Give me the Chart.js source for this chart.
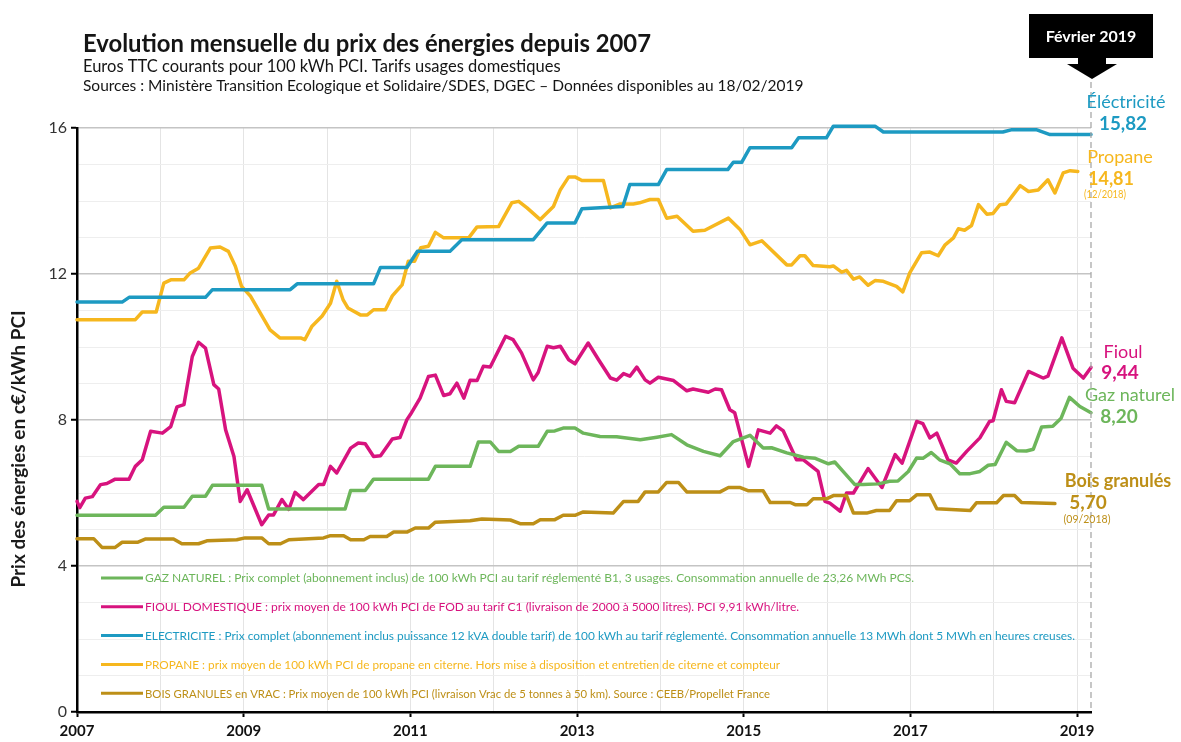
<!DOCTYPE html>
<html>
<head>
<meta charset="utf-8">
<script src="https://cdn.jsdelivr.net/npm/chart.js@4.4.0/dist/chart.umd.min.js"></script>
<style>
  html, body { margin: 0; padding: 0; background: #fff; }
</style>
</head>
<body>
<canvas id="prixEnergies" width="1181" height="742"></canvas>
<script>
// mois écoulés depuis janvier 2007 et prix en c€/kWh PCI
const elecMois = [0, 6.5, 7.5, 18.5, 19.5, 30.7, 31.7, 42.7, 43.7, 47.5, 49, 53.7, 55.4, 65.7, 67.7, 71.7, 72.7, 78.6, 79.6, 83.7, 84.9, 93.7, 94.5, 95.7, 96.9, 102.9, 103.9, 107.9, 108.9, 114.9, 116.1, 133.3, 134.5, 138.2, 140.1, 146];
const elecPrix = [11.23, 11.23, 11.36, 11.36, 11.57, 11.57, 11.73, 11.73, 12.18, 12.18, 12.62, 12.62, 12.94, 12.94, 13.4, 13.4, 13.79, 13.85, 14.45, 14.45, 14.86, 14.86, 15.06, 15.06, 15.46, 15.46, 15.73, 15.73, 16.05, 16.05, 15.89, 15.89, 15.95, 15.95, 15.82, 15.82];

const propaneMois = [0, 8.4, 9.4, 11.4, 12.5, 13.5, 15.4, 16.3, 17.5, 19.2, 20.6, 21.8, 22.8, 23.7, 25, 26.4, 27.8, 29.2, 32.2, 32.8, 33.8, 35.3, 36.5, 37.4, 38.3, 39, 40.8, 41.8, 42.7, 44.4, 45.4, 46.8, 47.7, 48.6, 49.5, 50.6, 51.6, 52.8, 56.4, 57.6, 60.7, 62.6, 63.6, 64.8, 66.7, 68.6, 69.6, 70.8, 71.7, 72.7, 75.8, 76.8, 78.2, 80.1, 81, 82.5, 83.7, 84.9, 86.4, 88.7, 90.4, 93.8, 95.5, 96.9, 98.6, 102.2, 102.9, 104.1, 104.8, 106, 108.4, 108.9, 110.1, 110.8, 111.8, 112.7, 113.9, 114.9, 116.1, 118, 118.9, 119.9, 121.6, 122.8, 124, 125, 126.2, 126.9, 127.8, 128.8, 129.8, 131, 131.9, 132.9, 133.8, 135.8, 137, 138.4, 139.8, 140.8, 142, 143, 144.1];
const propanePrix = [10.75, 10.75, 10.96, 10.96, 11.75, 11.84, 11.84, 12.03, 12.16, 12.71, 12.74, 12.62, 12.21, 11.66, 11.39, 10.93, 10.47, 10.25, 10.25, 10.2, 10.56, 10.85, 11.2, 11.8, 11.3, 11.07, 10.88, 10.88, 11.02, 11.02, 11.4, 11.7, 12.35, 12.35, 12.72, 12.76, 13.14, 12.99, 12.99, 13.29, 13.3, 13.95, 13.99, 13.81, 13.49, 13.85, 14.31, 14.66, 14.66, 14.56, 14.56, 13.81, 13.92, 13.92, 13.95, 14.04, 14.04, 13.53, 13.58, 13.17, 13.2, 13.53, 13.21, 12.8, 12.91, 12.25, 12.25, 12.5, 12.5, 12.23, 12.2, 12.22, 12.05, 12.1, 11.86, 11.92, 11.69, 11.82, 11.8, 11.66, 11.51, 12.03, 12.58, 12.6, 12.5, 12.8, 12.99, 13.24, 13.2, 13.33, 13.9, 13.64, 13.66, 13.9, 13.92, 14.42, 14.26, 14.3, 14.58, 14.22, 14.77, 14.83, 14.81];

const fioulMois = [0, 0.4, 1.2, 2.2, 3.4, 4.3, 5.5, 7.5, 8.4, 9.4, 10.6, 12.3, 13.5, 14.4, 15.4, 16.6, 17.5, 18.5, 19.7, 20.4, 21.4, 22.6, 23.5, 24.5, 26.6, 27.6, 28.3, 29.5, 30.5, 31.4, 32.6, 34.8, 35.5, 36.5, 37.4, 39.4, 40.5, 41.5, 42.7, 43.7, 45.4, 46.5, 47.5, 48, 49.4, 50.6, 51.6, 52.8, 53.7, 54.7, 55.7, 56.6, 57.6, 58.5, 59.5, 61.7, 62.8, 64, 65.7, 66.4, 67.7, 68.6, 69.6, 70.8, 71.7, 73.6, 75.1, 76.8, 77.7, 78.7, 79.6, 80.6, 81.8, 82.5, 83.7, 85.9, 87.8, 88.7, 90.9, 91.9, 92.8, 94, 94.7, 96.7, 98.1, 99.8, 100.7, 101.7, 103.6, 104.6, 106.7, 107.7, 108.4, 109.9, 110.8, 111.8, 113.9, 115.9, 117.8, 118.8, 120.9, 121.8, 122.8, 123.8, 125.4, 126.6, 128.1, 130, 131.4, 131.9, 133.1, 133.8, 135, 137, 139.1, 139.8, 141.8, 143.4, 144.9, 146];
const fioulPrix = [5.77, 5.6, 5.86, 5.9, 6.23, 6.26, 6.38, 6.38, 6.73, 6.91, 7.69, 7.64, 7.82, 8.36, 8.42, 9.74, 10.13, 9.97, 8.97, 8.85, 7.73, 7.0, 5.77, 6.09, 5.13, 5.4, 5.4, 5.82, 5.55, 6.02, 5.82, 6.23, 6.23, 6.73, 6.55, 7.23, 7.37, 7.35, 7.0, 7.02, 7.48, 7.52, 8.01, 8.15, 8.6, 9.19, 9.23, 8.67, 8.72, 9.01, 8.6, 9.09, 9.08, 9.47, 9.45, 10.29, 10.2, 9.84, 9.1, 9.3, 10.02, 9.98, 10.02, 9.65, 9.54, 10.11, 9.65, 9.15, 9.09, 9.27, 9.2, 9.45, 9.1, 9.01, 9.17, 9.08, 8.8, 8.85, 8.76, 8.85, 8.83, 8.28, 8.2, 6.73, 7.73, 7.64, 7.84, 7.7, 6.91, 6.91, 6.59, 5.77, 5.72, 5.5, 6.0, 6.0, 6.67, 6.15, 7.05, 6.82, 7.96, 7.9, 7.51, 7.64, 6.91, 6.82, 7.14, 7.51, 7.96, 7.98, 8.83, 8.51, 8.47, 9.33, 9.15, 9.2, 10.25, 9.42, 9.15, 9.44];

const gazMois = [0, 11.3, 12.5, 15.4, 16.6, 18.5, 19.5, 26.6, 27.6, 38.6, 39.4, 41.5, 42.7, 50.6, 51.6, 56.6, 57.8, 59.5, 60.7, 62.4, 63.6, 66.4, 67.7, 68.8, 70, 71.7, 72.9, 75.3, 77.7, 81.1, 83.5, 85.6, 87.8, 90.2, 92.6, 94.5, 96.9, 98.8, 100, 102.2, 104.6, 106.3, 108.2, 109.1, 110.3, 112, 113.2, 115.4, 117, 118.2, 119.7, 120.9, 121.8, 123, 124.2, 125.7, 127.1, 128.6, 130, 131.2, 132.2, 133.8, 135.3, 136.7, 137.7, 138.9, 140.5, 141.7, 142.9, 144.4, 146];
const gazPrix = [5.39, 5.39, 5.61, 5.61, 5.91, 5.91, 6.21, 6.21, 5.56, 5.56, 6.07, 6.07, 6.38, 6.38, 6.73, 6.73, 7.4, 7.4, 7.14, 7.14, 7.28, 7.28, 7.69, 7.7, 7.78, 7.78, 7.64, 7.55, 7.54, 7.46, 7.53, 7.6, 7.32, 7.14, 7.02, 7.41, 7.58, 7.23, 7.24, 7.1, 6.98, 6.95, 6.8, 6.85, 6.59, 6.23, 6.23, 6.25, 6.32, 6.33, 6.59, 6.96, 6.95, 7.11, 6.91, 6.8, 6.53, 6.53, 6.59, 6.76, 6.78, 7.39, 7.16, 7.15, 7.2, 7.81, 7.83, 8.05, 8.62, 8.37, 8.2];

const boisMois = [0, 2.4, 3.6, 5.5, 6.5, 8.7, 9.9, 13.9, 15.1, 17.5, 18.7, 23, 24.2, 26.6, 27.6, 29.3, 30.5, 35.5, 36.5, 38.4, 39.4, 41.3, 42.2, 44.6, 45.6, 47.5, 48.7, 50.6, 51.6, 56.6, 58.3, 62.4, 63.8, 65.7, 66.7, 68.8, 70, 71.7, 72.9, 77.2, 78.7, 80.8, 81.8, 83.7, 84.9, 86.6, 87.8, 92.6, 93.8, 95.5, 96.7, 98.8, 99.8, 102.7, 103.4, 105.1, 106, 107.9, 108.9, 110.8, 111.8, 113.7, 115.1, 117, 118, 119.9, 120.9, 122.8, 123.8, 128.6, 129.5, 132.4, 133.4, 135, 136, 140.8];
const boisPrix = [4.75, 4.75, 4.51, 4.51, 4.65, 4.65, 4.74, 4.74, 4.61, 4.61, 4.69, 4.72, 4.77, 4.77, 4.61, 4.61, 4.72, 4.77, 4.83, 4.83, 4.72, 4.72, 4.81, 4.81, 4.93, 4.93, 5.04, 5.04, 5.2, 5.24, 5.29, 5.26, 5.16, 5.16, 5.27, 5.27, 5.39, 5.39, 5.48, 5.45, 5.77, 5.77, 6.03, 6.03, 6.29, 6.29, 6.03, 6.03, 6.15, 6.15, 6.06, 6.06, 5.74, 5.74, 5.68, 5.68, 5.84, 5.84, 5.93, 5.93, 5.45, 5.45, 5.52, 5.52, 5.79, 5.79, 5.95, 5.95, 5.57, 5.52, 5.73, 5.73, 5.93, 5.93, 5.74, 5.71];

const yTicks = [0, 4, 8, 12, 16];
const anneesAffichees = [2007, 2009, 2011, 2013, 2015, 2017, 2019];

const couleurs = {
  elec: "#1d9ac2",
  propane: "#f6b71e",
  fioul: "#d7137e",
  gaz: "#6db65b",
  bois: "#bd8f17",
};

const legendeTextes = [
  ["GAZ NATUREL : Prix complet (abonnement inclus) de 100 kWh PCI au tarif réglementé B1, 3 usages. Consommation annuelle de 23,26 MWh PCS.", couleurs.gaz, 770],
  ["FIOUL DOMESTIQUE : prix moyen de 100 kWh PCI de FOD au tarif C1 (livraison de 2000 à 5000 litres). PCI 9,91 kWh/litre.", couleurs.fioul, 655],
  ["ELECTRICITE : Prix complet (abonnement inclus puissance 12 kVA double tarif) de 100 kWh au tarif réglementé. Consommation annuelle 13 MWh dont 5 MWh en heures creuses.", couleurs.elec, 930],
  ["PROPANE : prix moyen de 100 kWh PCI de propane en citerne. Hors mise à disposition et entretien de citerne et compteur", couleurs.propane, 635],
  ["BOIS GRANULES en VRAC : Prix moyen de 100 kWh PCI (livraison Vrac de 5 tonnes à 50 km). Source : CEEB/Propellet France", couleurs.bois, 625],
];

function points(mois, prix) {
  return mois.map((m, i) => ({ x: m, y: prix[i] }));
}

function serie(label, mois, prix, color) {
  return {
    label,
    data: points(mois, prix),
    borderColor: color,
    backgroundColor: color,
    borderWidth: 3.5,
    pointRadius: 0,
    borderJoinStyle: "round",
    borderCapStyle: "round",
    clip: false,
  };
}

const FONT = "Lato, 'Open Sans', sans-serif";

function texte(ctx, str, x, y, font, color, align, maxW) {
  ctx.font = font;
  ctx.fillStyle = color;
  ctx.textAlign = align || "left";
  ctx.textBaseline = "alphabetic";
  if (maxW) ctx.fillText(str, x, y, maxW);
  else ctx.fillText(str, x, y);
}

// 🖊️ titres, légende intérieure et annotations de fin de série
const annotations = {
  id: "annotations",
  afterDraw(chart) {
    const ctx = chart.ctx;
    const area = chart.chartArea;
    const xs = chart.scales.x;
    ctx.save();

    texte(ctx, "Evolution mensuelle du prix des énergies depuis 2007", 83, 52, "bold 24px " + FONT, "#151515", "left", 568);
    texte(ctx, "Euros TTC courants pour 100 kWh PCI. Tarifs usages domestiques", 83, 72, "16.5px " + FONT, "#151515", "left", 484);
    texte(ctx, "Sources : Ministère Transition Ecologique et Solidaire/SDES, DGEC – Données disponibles au 18/02/2019", 83, 91, "15.5px " + FONT, "#151515", "left", 728);

    // titre de l'axe vertical
    ctx.save();
    ctx.translate(25, 449);
    ctx.rotate(-Math.PI / 2);
    texte(ctx, "Prix des énergies en c€/kWh PCI", 0, 0, "bold 19px " + FONT, "#1a1a1a", "center", 280);
    ctx.restore();

    // ligne pointillée février 2019
    const xf = xs.getPixelForValue(146);
    ctx.strokeStyle = "#a9a9a9";
    ctx.lineWidth = 1.3;
    ctx.setLineDash([6, 4]);
    ctx.beginPath();
    ctx.moveTo(xf, 82);
    ctx.lineTo(xf, area.bottom);
    ctx.stroke();
    ctx.setLineDash([]);

    // encadré + flèche
    ctx.fillStyle = "#000";
    ctx.fillRect(1029, 14, 124, 44);
    ctx.fillRect(1078, 56, 28, 10);
    ctx.beginPath();
    ctx.moveTo(1067, 64);
    ctx.lineTo(1117, 64);
    ctx.lineTo(1092, 79);
    ctx.closePath();
    ctx.fill();
    texte(ctx, "Février 2019", 1091, 42, "bold 16px " + FONT, "#fff", "center", 104);

    // légende dans la zone de tracé
    legendeTextes.forEach(([str, color, w], i) => {
      const y = 578 + i * 28.8;
      ctx.strokeStyle = color;
      ctx.lineWidth = 3;
      ctx.beginPath();
      ctx.moveTo(101, y);
      ctx.lineTo(143, y);
      ctx.stroke();
      ctx.font = "12px " + FONT;
      ctx.fillStyle = color;
      ctx.textAlign = "left";
      ctx.textBaseline = "middle";
      ctx.fillText(str, 145, y + 0.5, w);
    });

    // valeurs de fin de série
    texte(ctx, "Éléctricité", 1126, 108, "18px " + FONT, couleurs.elec, "center", 84);
    texte(ctx, "15,82", 1123, 130, "bold 19px " + FONT, couleurs.elec, "center", 48);
    texte(ctx, "Propane", 1120, 163, "18px " + FONT, couleurs.propane, "center", 74);
    texte(ctx, "14,81", 1111, 185, "bold 19px " + FONT, couleurs.propane, "center", 46);
    texte(ctx, "(12/2018)", 1105, 198, "10.5px " + FONT, couleurs.propane, "center", 42);
    texte(ctx, "Fioul", 1123, 358, "18px " + FONT, couleurs.fioul, "center", 42);
    texte(ctx, "9,44", 1120, 379, "bold 19px " + FONT, couleurs.fioul, "center", 40);
    texte(ctx, "Gaz naturel", 1130, 401, "18px " + FONT, couleurs.gaz, "center", 96);
    texte(ctx, "8,20", 1119, 423, "bold 19px " + FONT, couleurs.gaz, "center", 40);
    texte(ctx, "Bois granulés", 1118, 487, "bold 18px " + FONT, couleurs.bois, "center", 114);
    texte(ctx, "5,70", 1088, 509, "bold 19px " + FONT, couleurs.bois, "center", 40);
    texte(ctx, "(09/2018)", 1087, 523, "10.5px " + FONT, couleurs.bois, "center", 48);

    ctx.restore();
  },
};

new Chart(document.getElementById("prixEnergies"), {
  type: "line",
  data: {
    datasets: [
      serie("Bois granulés", boisMois, boisPrix, couleurs.bois),
      serie("Gaz naturel", gazMois, gazPrix, couleurs.gaz),
      serie("Fioul", fioulMois, fioulPrix, couleurs.fioul),
      serie("Électricité", elecMois, elecPrix, couleurs.elec),
      serie("Propane", propaneMois, propanePrix, couleurs.propane),
    ],
  },
  options: {
    responsive: false,
    animation: false,
    layout: { padding: { left: 0, top: 128, right: 90, bottom: 0 } },
    plugins: {
      legend: { display: false },
      tooltip: { enabled: false },
    },
    scales: {
      x: {
        type: "linear",
        min: 0,
        max: 146,
        afterFit: (s) => { s.height = 30; },
        ticks: {
          stepSize: 12,
          includeBounds: false,
          autoSkip: false,
          maxRotation: 0,
          padding: 5,
          color: "#111",
          font: { family: FONT, size: 15, weight: "bold" },
          callback: (v) => (anneesAffichees.includes(2007 + v / 12) ? String(2007 + v / 12) : ""),
        },
        grid: {
          color: "#e4e4e4",
          lineWidth: 1,
          tickLength: 5,
          tickWidth: 2,
          tickColor: (c) => (c.tick && anneesAffichees.includes(2007 + c.tick.value / 12) ? "#000" : "rgba(0,0,0,0)"),
        },
        border: { color: "#000", width: 2.5 },
      },
      y: {
        min: 0,
        max: 16,
        afterFit: (s) => { s.width = 77; },
        ticks: {
          stepSize: 1,
          padding: 4,
          color: "#333",
          font: { family: FONT, size: 16 },
          callback: (v) => (yTicks.includes(v) ? String(v) : ""),
        },
        grid: {
          color: (c) => (c.tick && yTicks.includes(c.tick.value) ? "#c4c4c4" : "#eeeeee"),
          lineWidth: (c) => (c.tick && yTicks.includes(c.tick.value) ? 1.5 : 1),
          tickLength: 6,
          tickWidth: 2,
          tickColor: (c) => (c.tick && yTicks.includes(c.tick.value) ? "#000" : "rgba(0,0,0,0)"),
        },
        border: { color: "#000", width: 2.5 },
      },
    },
  },
  plugins: [annotations],
});
</script>
</body>
</html>
